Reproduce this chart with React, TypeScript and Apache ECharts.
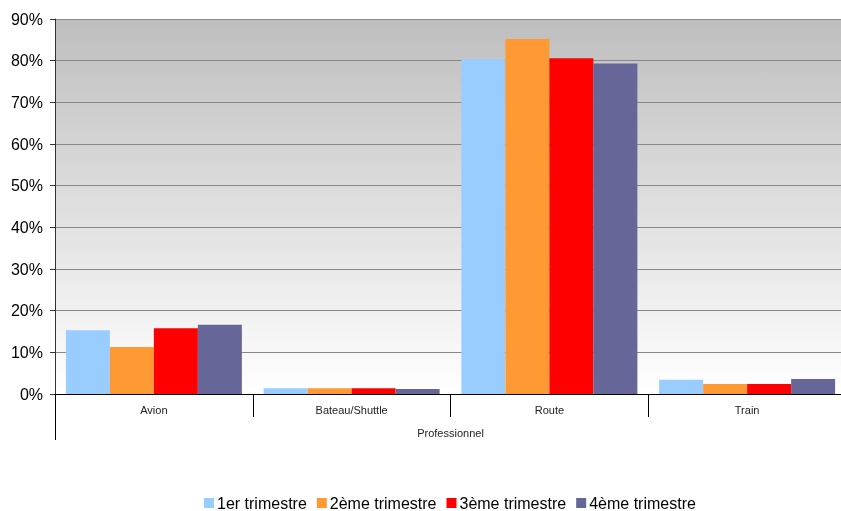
import React, { useEffect, useRef } from "react";
import * as echarts from "echarts";

const categories = ["Avion", "Bateau/Shuttle", "Route", "Train"];
const groupLabel = ["Professionnel"];
const seriesNames = ["1er trimestre", "2ème trimestre", "3ème trimestre", "4ème trimestre"];
const q1 = [15.3, 1.4, 80.4, 3.4];
const q2 = [11.3, 1.4, 85.2, 2.4];
const q3 = [15.8, 1.4, 80.6, 2.4];
const q4 = [16.6, 1.2, 79.3, 3.6];
const colors = ["#99ccff", "#ff9933", "#ff0000", "#666699"];

const FONT = "'Liberation Sans', Arial, Helvetica, sans-serif";

export default function App() {
  const ref = useRef<HTMLDivElement>(null);
  useEffect(() => {
    if (!ref.current) return;
    const chart = echarts.init(ref.current, null, { renderer: "svg" });
    const values = [q1, q2, q3, q4];
    chart.setOption({
      animation: false,
      textStyle: { fontFamily: FONT },
      grid: {
        left: 55,
        top: 19,
        bottom: 117,
        right: -5,
        outerBoundsMode: "none",
        containLabel: false,
        show: true,
        borderWidth: 0,
        backgroundColor: new echarts.graphic.LinearGradient(0, 0, 0, 1, [
          { offset: 0, color: "#bebebe" },
          { offset: 1, color: "#ffffff" },
        ]),
      },
      legend: {
        bottom: -5,
        left: 204,
        padding: [5, 0, 5, 0],
        itemWidth: 10,
        itemHeight: 10,
        itemGap: 10,
        icon: "rect",
        textStyle: { fontSize: 16, color: "#000", fontFamily: FONT, padding: [0, 0, 0, -2] },
        data: seriesNames,
      },
      xAxis: [
        {
          type: "category",
          data: categories,
          position: "bottom",
          axisLine: { lineStyle: { color: "#000", width: 1 } },
          axisTick: { show: true, length: 23, lineStyle: { color: "#000" } },
          axisLabel: { fontSize: 11, color: "#222", margin: 10 },
        },
        {
          type: "category",
          data: groupLabel,
          position: "bottom",
          offset: 23,
          axisLine: { show: false },
          axisTick: { show: true, length: 23, lineStyle: { color: "#000" } },
          axisLabel: { fontSize: 11, color: "#222", margin: 10 },
        },
      ],
      yAxis: {
        type: "value",
        min: 0,
        max: 90,
        interval: 10,
        axisLine: { show: true, lineStyle: { color: "#333" } },
        axisTick: { show: true, length: 5, lineStyle: { color: "#333" } },
        axisLabel: { fontSize: 16, color: "#000", margin: 12, formatter: "{value}%" },
        splitLine: { show: true, lineStyle: { color: "#888", width: 1 } },
      },
      series: seriesNames.map((name, i) => ({
        name,
        type: "bar",
        data: values[i],
        xAxisIndex: 0,
        barGap: "0%",
        barCategoryGap: "11%",
        itemStyle: { color: colors[i] },
      })),
    });
    return () => chart.dispose();
  }, []);
  return (
    <div
      ref={ref}
      style={{ position: "fixed", left: 0, top: 0, width: 841, height: 511 }}
    />
  );
}
